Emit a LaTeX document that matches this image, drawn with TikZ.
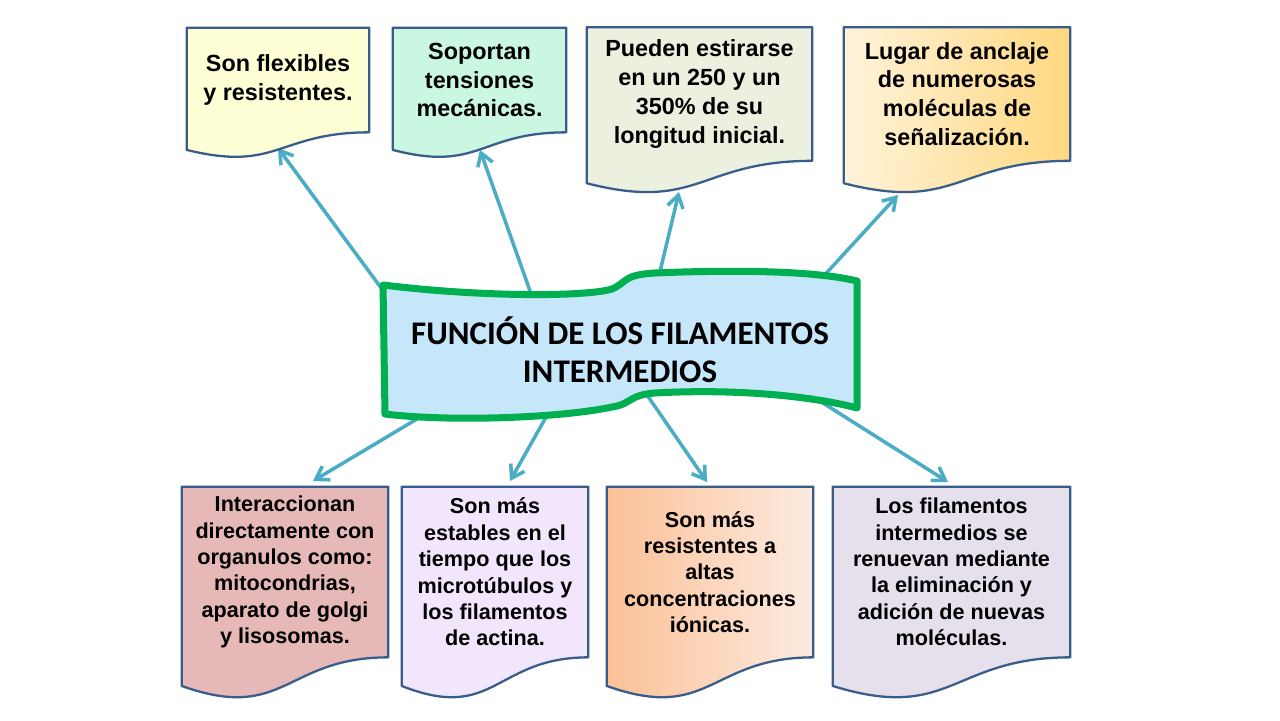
\documentclass[tikz,border=0pt]{standalone}
\usepackage{fontspec}
\setmainfont{Liberation Sans}
\newfontfamily\titlefont{Carlito}
\usetikzlibrary{arrows.meta, calc}
\pgfdeclarelayer{canvas}
\pgfdeclarelayer{links}
\pgfdeclarelayer{shapes}
\pgfsetlayers{canvas,links,shapes,main}
\definecolor{docborder}{HTML}{385D8A}
\definecolor{linkblue}{HTML}{4BACC6}
\definecolor{bannergreen}{HTML}{00B050}
\definecolor{bannerblue}{HTML}{C6E6FA}
\definecolor{docyellow}{HTML}{FFFFD6}
\definecolor{docmint}{HTML}{C9F7E1}
\definecolor{docsage}{HTML}{EBF1DE}
\definecolor{docrose}{HTML}{E6B9B8}
\definecolor{doclilac}{HTML}{F1E6FB}
\definecolor{docgray}{HTML}{E5E0EC}
\definecolor{goldpale}{HTML}{FFF3DA}
\definecolor{golddeep}{HTML}{FFD880}
\definecolor{peachdeep}{HTML}{FBC096}
\definecolor{peachpale}{HTML}{FDEBE1}
\tikzstyle{topdoc} = [rectangle, inner sep=0pt, align=center,
font=\bfseries\fontsize{13.3}{16.4}\selectfont]
\tikzstyle{botdoc} = [rectangle, inner sep=0pt, align=center,
minimum height=3.4cm,
font=\bfseries\fontsize{12.3}{15}\selectfont]
\tikzstyle{docline} = [draw=docborder, line width=1.3pt, line join=round]
\tikzstyle{link} = [draw=linkblue, line width=2pt,
-{Straight Barb[length=7pt, width=9pt]}]
\tikzstyle{banner} = [draw=bannergreen, fill=bannerblue, line width=4pt, line join=round]
\newcommand{\docshape}[2]{%
  \path[docline, #2] (#1.north west) -- (#1.north east) -- (#1.south east)
    .. controls (#1.south) and ($(#1.north)!1.384!(#1.south)$)
    .. ($(#1.north west)!1.1675!(#1.south west)$) -- cycle;}

\begin{document}
\begin{tikzpicture}[x=0.02cm, y=-0.02cm]
		\begin{pgfonlayer}{canvas}
		\fill[white] (0,0) rectangle (1280,720);
		\end{pgfonlayer}
		\useasboundingbox (0,0) rectangle (1280,720);
		% upper documents
		\node (flex) [topdoc, minimum width=3.64cm, minimum height=2.08cm] at (278,80) {Son flexibles\\y resistentes.};
		\node (tension) [topdoc, minimum width=3.46cm, minimum height=2.08cm] at (479.5,80) {Soportan\\tensiones\\mecánicas.};
		\node (stretch) [topdoc, minimum width=4.5cm, minimum height=2.66cm] at (699.5,94) {Pueden estirarse\\en un 250 y un\\350\% de su\\longitud inicial.};
		\node (anclaje) [topdoc, minimum width=4.52cm, minimum height=2.66cm] at (957,94) {Lugar de anclaje\\de numerosas\\moléculas de\\señalización.};
		% lower documents
		\node (organulos) [botdoc, minimum width=4.12cm] at (285,572) {Interaccionan\\directamente con\\organulos como:\\mitocondrias,\\aparato de golgi\\y lisosomas.};
		\node (stable) [botdoc, minimum width=3.72cm] at (495,572) {Son más\\estables en el\\tiempo que los\\microtúbulos y\\los filamentos\\de actina.};
		\node (ionic) [botdoc, minimum width=4.12cm] at (710,572) {Son más\\resistentes a\\altas\\concentraciones\\iónicas.};
		\node (renewal) [botdoc, minimum width=4.74cm] at (951.5,572) {Los filamentos\\intermedios se\\renuevan mediante\\la eliminación y\\adición de nuevas\\moléculas.};
		% title
		\node (funcion) [align=center, font=\titlefont\bfseries\fontsize{18.8}{21.5}\selectfont] at (620,350) {FUNCIÓN DE LOS FILAMENTOS\\INTERMEDIOS};

		\coordinate (o1) at (390,300);
		\coordinate (o2) at (535,305);
		\coordinate (o3) at (658,280);
		\coordinate (o4) at (820,280);
		\coordinate (o5) at (437,407);
		\coordinate (o6) at (550,410);
		\coordinate (o7) at (647,395);
		\coordinate (o8) at (815,398);
		\coordinate (t1) at (278,148);
		\coordinate (t2) at (480,150);
		\coordinate (t3) at (679,192);
		\coordinate (t4) at (898,195);
		\coordinate (t5) at (313,481);
		\coordinate (t6) at (510,481);
		\coordinate (t7) at (707,482);
		\coordinate (t8) at (948,482);

		\begin{pgfonlayer}{shapes}
		\docshape{flex}{fill=docyellow}
		\docshape{tension}{fill=docmint}
		\docshape{stretch}{fill=docsage}
		\docshape{anclaje}{left color=goldpale, right color=golddeep}
		\docshape{organulos}{fill=docrose}
		\docshape{stable}{fill=doclilac}
		\docshape{ionic}{left color=peachdeep, right color=peachpale}
		\docshape{renewal}{fill=docgray}
		\path[banner] (383,285) .. controls (480,297) and (585,297) .. (612,289)
			.. controls (628,282) and (622,275) .. (655,273)
			.. controls (750,269) and (820,272) .. (857,281) -- (857,408)
			.. controls (820,398) and (745,388) .. (655,393)
			.. controls (628,395) and (632,404) .. (612,407)
			.. controls (560,418) and (450,422) .. (385,414) -- cycle;
		\end{pgfonlayer}

		\begin{pgfonlayer}{links}
		\draw [link](o1) -- (t1);
		\draw [link](o2) -- (t2);
		\draw [link](o3) -- (t3);
		\draw [link](o4) -- (t4);
		\draw [link](o5) -- (t5);
		\draw [link](o6) -- (t6);
		\draw [link](o7) -- (t7);
		\draw [link](o8) -- (t8);
		\end{pgfonlayer}
	\end{tikzpicture}
\end{document}
